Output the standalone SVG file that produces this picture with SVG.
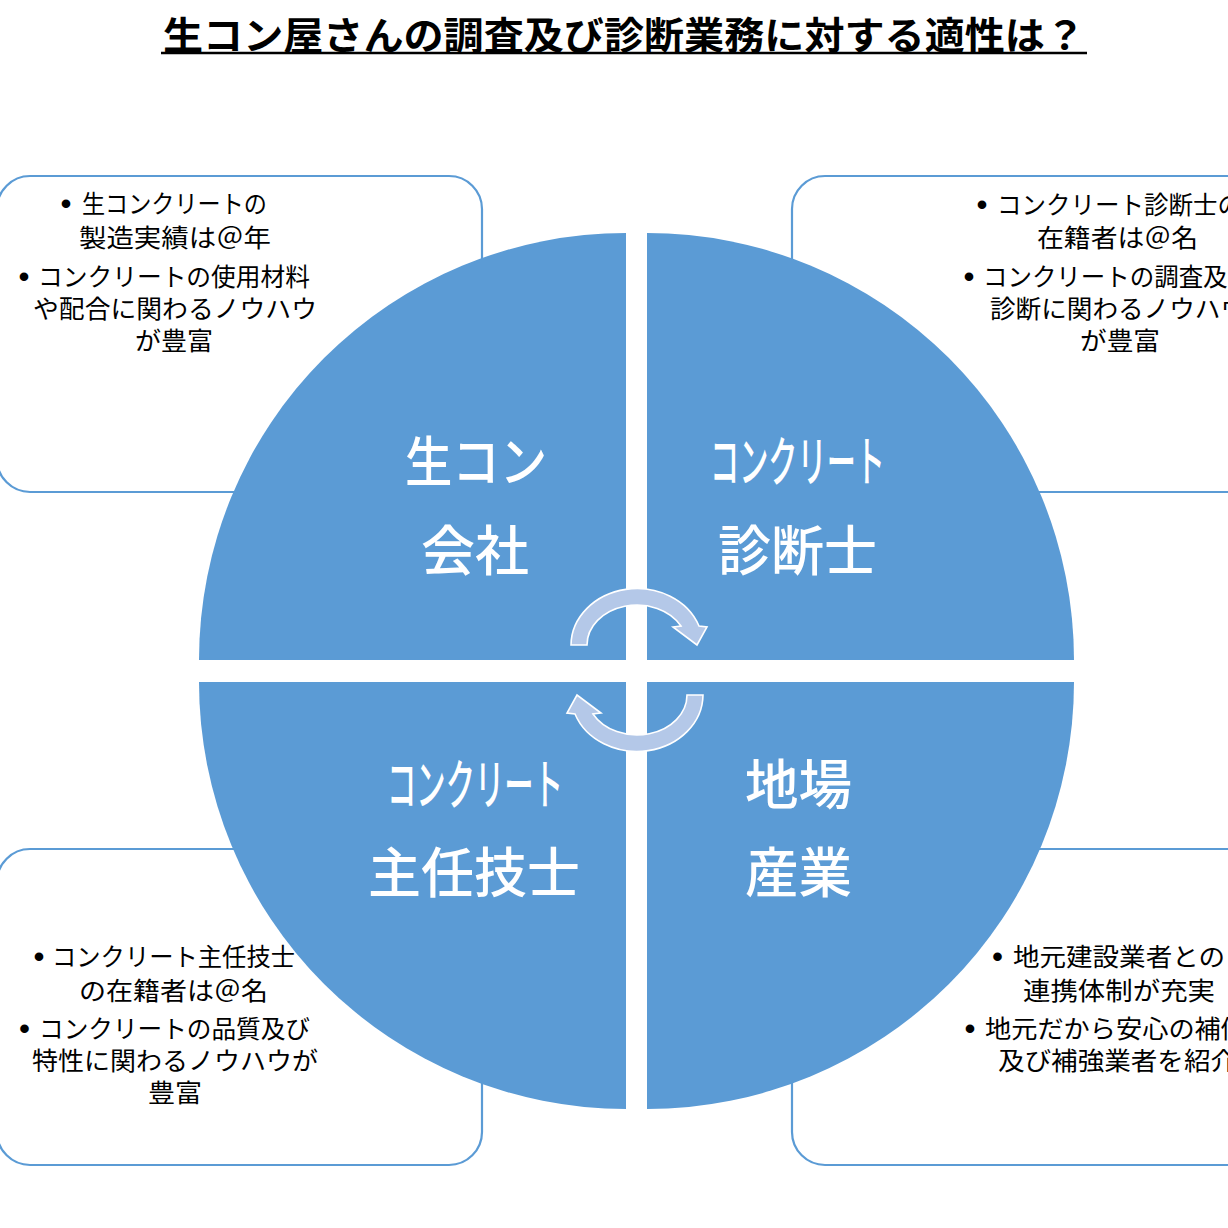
<svg xmlns="http://www.w3.org/2000/svg" width="1228" height="1228" viewBox="0 0 1228 1228">
<style>
.box{fill:#fff;stroke:#5B9BD5;stroke-width:2.2}
.quad{fill:#5B9BD5}
.arrow{fill:#B4C8E8;stroke:#fff;stroke-width:1.6}
.t{font-family:"Noto Sans CJK JP","Noto Sans CJK SC",sans-serif;font-size:25px;fill:#000;text-anchor:middle}
.b{font-family:"Liberation Sans",sans-serif;font-size:30px;font-weight:bold;fill:#000;text-anchor:middle}
.lbl{font-family:"Noto Sans CJK JP","Noto Sans CJK SC",sans-serif;font-size:54px;font-weight:500;fill:#fff;text-anchor:middle}
.title{font-family:"Noto Sans CJK JP","Noto Sans CJK SC",sans-serif;font-size:38px;font-weight:bold;fill:#000;text-anchor:middle}
</style>
<rect width="1228" height="1228" fill="#fff"/>
<g id="title">
<text class="title" x="624" y="49" textLength="922" lengthAdjust="spacingAndGlyphs">生コン屋さんの調査及び診断業務に対する適性は？</text>
<line x1="161" y1="53" x2="1087" y2="53" stroke="#000" stroke-width="2.5"/>
</g>
<g id="box-tl">
<rect class="box" x="-3" y="176" width="485" height="316" rx="33"/>
<text class="b" x="66" y="214">•</text>
<text class="t" x="174.5" y="213" textLength="185" lengthAdjust="spacingAndGlyphs">生コンクリートの</text>
<text class="t" x="175" y="247" textLength="192" lengthAdjust="spacingAndGlyphs">製造実績は＠年</text>
<text class="b" x="24" y="287">•</text>
<text class="t" x="174" y="286" textLength="272" lengthAdjust="spacingAndGlyphs">コンクリートの使用材料</text>
<text class="t" x="175" y="318" textLength="284" lengthAdjust="spacingAndGlyphs">や配合に関わるノウハウ</text>
<text class="t" x="174" y="350" textLength="78" lengthAdjust="spacingAndGlyphs">が豊富</text>
</g>
<g id="box-tr">
<rect class="box" x="792" y="176" width="485" height="316" rx="33"/>
<text class="b" x="982" y="215">•</text>
<text class="t" x="1119.5" y="214" textLength="245" lengthAdjust="spacingAndGlyphs">コンクリート診断士の</text>
<text class="t" x="1117.5" y="247" textLength="161" lengthAdjust="spacingAndGlyphs">在籍者は＠名</text>
<text class="b" x="969" y="287">•</text>
<text class="t" x="1117.5" y="286" textLength="269" lengthAdjust="spacingAndGlyphs">コンクリートの調査及び</text>
<text class="t" x="1118" y="318" textLength="256" lengthAdjust="spacingAndGlyphs">診断に関わるノウハウ</text>
<text class="t" x="1120" y="350" textLength="80" lengthAdjust="spacingAndGlyphs">が豊富</text>
</g>
<g id="box-bl">
<rect class="box" x="-3" y="849" width="485" height="316" rx="33"/>
<text class="b" x="39" y="967">•</text>
<text class="t" x="173.5" y="966" textLength="243" lengthAdjust="spacingAndGlyphs">コンクリート主任技士</text>
<text class="t" x="173.5" y="1000" textLength="189" lengthAdjust="spacingAndGlyphs">の在籍者は＠名</text>
<text class="b" x="24.5" y="1039">•</text>
<text class="t" x="174.5" y="1038" textLength="271" lengthAdjust="spacingAndGlyphs">コンクリートの品質及び</text>
<text class="t" x="175" y="1070" textLength="286" lengthAdjust="spacingAndGlyphs">特性に関わるノウハウが</text>
<text class="t" x="175" y="1102" textLength="54" lengthAdjust="spacingAndGlyphs">豊富</text>
</g>
<g id="box-br">
<rect class="box" x="792" y="849" width="485" height="316" rx="33"/>
<text class="b" x="997.5" y="967">•</text>
<text class="t" x="1119" y="966" textLength="212" lengthAdjust="spacingAndGlyphs">地元建設業者との</text>
<text class="t" x="1119" y="1000" textLength="192" lengthAdjust="spacingAndGlyphs">連携体制が充実</text>
<text class="b" x="970" y="1039">•</text>
<text class="t" x="1116" y="1038" textLength="262" lengthAdjust="spacingAndGlyphs">地元だから安心の補修</text>
<text class="t" x="1117.5" y="1070" textLength="239" lengthAdjust="spacingAndGlyphs">及び補強業者を紹介</text>
</g>
<g id="quad-tl">
<path class="quad" d="M626,660 L199,660 A427,427 0 0 1 626,233 Z"/>
<text class="lbl" x="476" y="482" textLength="142" lengthAdjust="spacingAndGlyphs">生コン</text>
<text class="lbl" x="475" y="571">会社</text>
</g>
<g id="quad-tr">
<path class="quad" d="M647,660 L647,233 A427,427 0 0 1 1074,660 Z"/>
<text class="lbl" x="797.5" y="482" textLength="175" lengthAdjust="spacingAndGlyphs">コンクリート</text>
<text class="lbl" x="797.5" y="571" textLength="159" lengthAdjust="spacingAndGlyphs">診断士</text>
</g>
<g id="quad-bl">
<path class="quad" d="M626,682 L626,1109 A427,427 0 0 1 199,682 Z"/>
<text class="lbl" x="475" y="805" textLength="176" lengthAdjust="spacingAndGlyphs">コンクリート</text>
<text class="lbl" x="474" y="893" textLength="212" lengthAdjust="spacingAndGlyphs">主任技士</text>
</g>
<g id="quad-br">
<path class="quad" d="M647,682 L1074,682 A427,427 0 0 1 647,1109 Z"/>
<text class="lbl" x="798.5" y="805" textLength="107" lengthAdjust="spacingAndGlyphs">地場</text>
<text class="lbl" x="798.5" y="893" textLength="107" lengthAdjust="spacingAndGlyphs">産業</text>
</g>
<g id="connectors">
<path class="arrow" d="M571,645 A66,57 0 0 1 699,626 L707,627 L697,645 L673,627 L681,626 A50,40 0 0 0 587,645 Z"/>
<path class="arrow" d="M703,695 A66,57 0 0 1 575,714 L567,713 L577,695 L601,713 L593,714 A50,40 0 0 0 687,695 Z"/>
</g>
</svg>
